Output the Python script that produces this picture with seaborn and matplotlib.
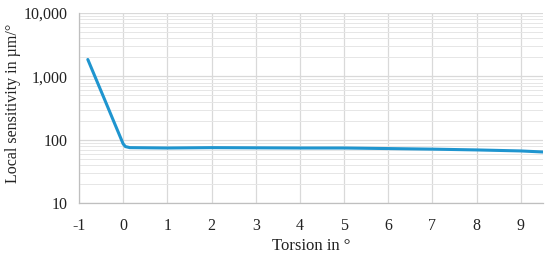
import numpy as np
import matplotlib.pyplot as plt
import matplotlib.ticker as mticker
import seaborn as sns

# =========================
# Data
# =========================
torsion = [-0.8, -0.6, -0.4, -0.2, 0.0, 0.05, 0.15, 1, 2, 3, 4, 5, 6, 7, 8, 9, 9.5]
sensitivity = [1850, 860, 400, 185, 86, 78, 75, 74, 75, 74.5, 74, 74, 72.5, 71, 69, 66.5, 64]

x_ticks = list(range(-1, 10))
y_ticks = [10, 100, 1000, 10000]
y_tick_labels = ["10", "100", "1,000", "10,000"]

# =========================
# Setup
# =========================
sns.set_theme(style="white")
plt.rcParams["font.family"] = ["Liberation Serif", "DejaVu Serif"]
plt.rcParams["axes.unicode_minus"] = False

fig = plt.figure(figsize=(5.5, 2.57), dpi=100)
ax = fig.add_axes([0.1436, 0.21, 0.8434, 0.739])

sns.lineplot(x=torsion, y=sensitivity, ax=ax, color="#1f95cf", linewidth=2.2)

ax.set_yscale("log")
ax.set_ylim(10, 10000)
ax.set_xlim(-1, 9.5)

ax.set_yticks(y_ticks)
ax.set_yticklabels(y_tick_labels)
ax.yaxis.set_minor_locator(mticker.LogLocator(base=10, subs=np.arange(2, 10)))
ax.yaxis.set_minor_formatter(mticker.NullFormatter())
ax.set_xticks(x_ticks)

ax.grid(True, which="major", color="#d9d9d9", linewidth=0.9)
ax.grid(True, which="minor", axis="y", color="#e6e6e6", linewidth=0.7)
ax.set_axisbelow(True)

for side in ["top", "right"]:
    ax.spines[side].set_visible(False)
for side in ["left", "bottom"]:
    ax.spines[side].set_color("#bfbfbf")
    ax.spines[side].set_linewidth(0.9)

ax.tick_params(axis="both", which="both", length=0, labelsize=11.5, colors="#222222", pad=8)
ax.tick_params(axis="x", pad=11)

ax.set_xlabel("Torsion in °", fontsize=12, color="#222222", labelpad=3)
fig.text(13 / 550, 1 - 103 / 257, "Local sensitivity in µm/°", rotation=90,
         ha="center", va="center", fontsize=11.5, color="#222222")

fig.savefig("out.png", dpi=100)
